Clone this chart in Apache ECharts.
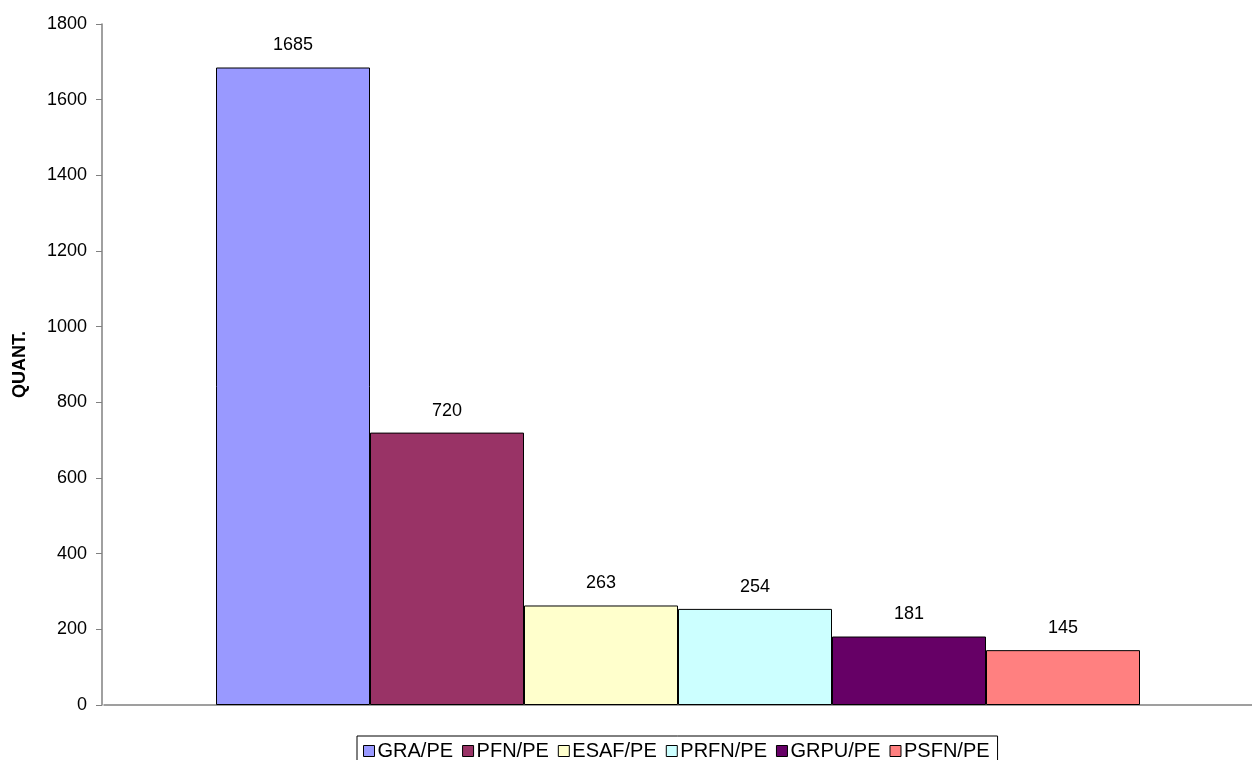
<!DOCTYPE html>
<html><head><meta charset="utf-8">
<script src="https://cdn.jsdelivr.net/npm/echarts@6/dist/echarts.min.js"></script>
<style>html,body{margin:0;padding:0;background:#fff}#c{width:1252px;height:760px}</style>
</head><body><div id="c"></div>
<script>
var seriesNames = ['GRA/PE','PFN/PE','ESAF/PE','PRFN/PE','GRPU/PE','PSFN/PE'];
var seriesValues = [1685, 720, 263, 254, 181, 145];
var seriesColors = ['#9999FF','#993366','#FFFFCC','#CCFFFF','#660066','#FF8080'];
var yTicks = [0,200,400,600,800,1000,1200,1400,1600,1800];

var FONT = 'Arial, "Liberation Sans", sans-serif';
var chart = echarts.init(document.getElementById('c'));
var series = seriesNames.map(function(n,i){
  return {
    name:n, type:'bar', data:[seriesValues[i]],
    barWidth:154, barGap:'0%',
    itemStyle:{color:seriesColors[i], borderColor:'#000', borderWidth:1},
    label:{show:true, position:'top', distance:13, color:'#000', fontFamily:FONT, fontSize:18},
    emphasis:{disabled:true}
  };
});
chart.setOption({
  animation:false,
  textStyle:{fontFamily:FONT},
  grid:{left:104, right:0, top:24, bottom:55, containLabel:false},
  xAxis:{type:'category', data:[''],
    axisLine:{lineStyle:{color:'#808080', width:1.5}},
    axisTick:{show:false}, axisLabel:{show:false}},
  yAxis:{type:'value', min:0, max:1800, interval:200, offset:2,
    name:'QUANT.', nameLocation:'middle', nameGap:73,
    nameTextStyle:{fontWeight:'bold', fontSize:18, color:'#000', fontFamily:FONT},
    axisLine:{show:true, lineStyle:{color:'#808080', width:1.5}},
    axisTick:{show:true, length:6, lineStyle:{color:'#808080'}},
    splitLine:{show:false},
    axisLabel:{color:'#000', fontSize:18, margin:15, fontFamily:FONT,
      formatter:function(v){return yTicks.indexOf(v)>=0?String(v):'';}}
  },
  legend:{data:seriesNames, bottom:-4, left:357, itemWidth:11, itemHeight:11, itemGap:9,
    icon:'rect', borderColor:'#000', borderWidth:1, padding:[5,8,3,6],
    itemStyle:{borderColor:'#000', borderWidth:1},
    textStyle:{fontSize:20, color:'#000', padding:[0,0,0,-2], fontFamily:FONT}},
  series:series
});
</script></body></html>
